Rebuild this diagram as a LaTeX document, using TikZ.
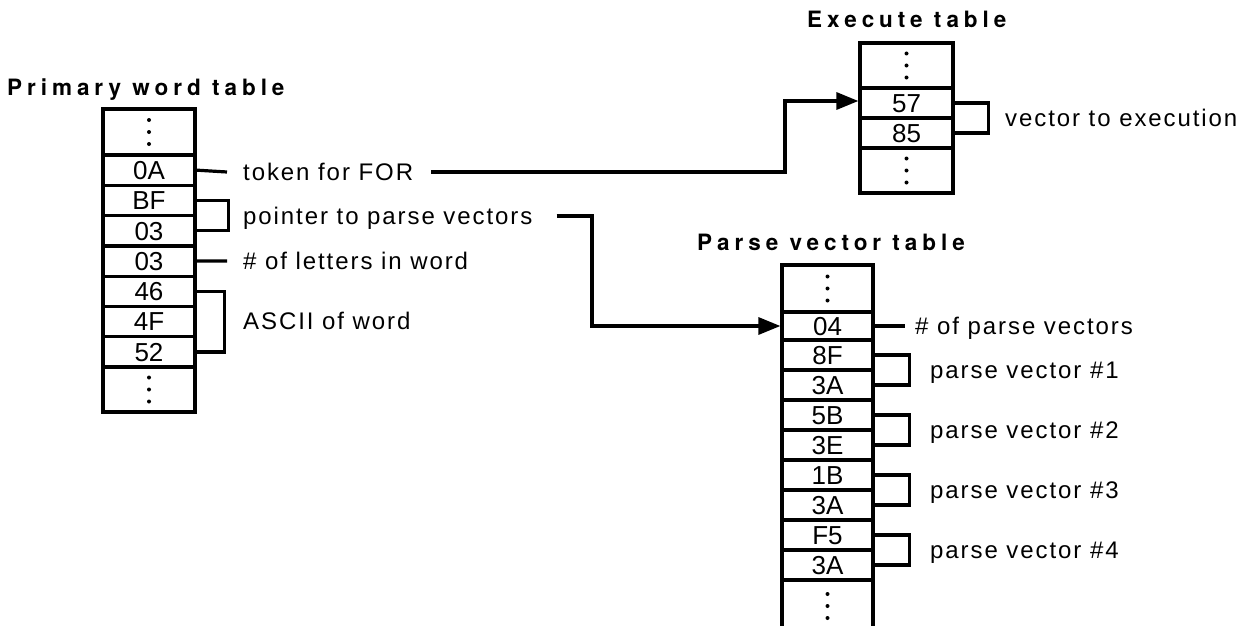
\documentclass[tikz,border=0pt]{standalone}
\usepackage{fontspec}
\setmainfont{Liberation Sans}
\newfontfamily\labfont{Liberation Sans}[LetterSpace=8]
\newfontfamily\titfont{TeX Gyre Heros}[LetterSpace=22]
\usetikzlibrary{arrows.meta}
\tikzset{
  cell/.style={draw, line width=3.2pt, minimum width=92pt, minimum height=30.3pt,
    inner sep=0pt, text height=18.6pt, text depth=0pt,
    font=\fontsize{26}{30}\selectfont},
  dotcell/.style={cell},
  lab/.style={anchor=west, inner sep=0pt, text height=17.2pt, text depth=0pt,
    font=\labfont\fontsize{24}{28}\selectfont},
  title/.style={anchor=base west, inner sep=0pt,
    font=\titfont\bfseries\fontsize{22.5}{26}\selectfont},
  conn/.style={line width=3.2pt},
  arr/.style={conn, -{Triangle[length=22pt,width=17pt]}},
}
\begin{document}
\begin{tikzpicture}[x=1pt,y=-1pt]
\useasboundingbox (0,0) rectangle (1252,626);
\clip (0,0) rectangle (1252,626);

% ---- Primary word table
\node[title] (tp) at (7,95) {Primary word table};
\node[dotcell, minimum height=46pt] (p0) at (149,132) {};
\node[cell] (p1) at (149,170.15) {0A};
\node[cell] (p2) at (149,200.45) {BF};
\node[cell] (p3) at (149,230.75) {03};
\node[cell] (p4) at (149,261.05) {03};
\node[cell] (p5) at (149,291.35) {46};
\node[cell] (p6) at (149,321.65) {4F};
\node[cell] (p7) at (149,351.95) {52};
\node[dotcell, minimum height=45pt] (p8) at (149,389.5) {};
\foreach \n in {p0,p8}{
  \foreach \d in {-12,0,12} \fill ([yshift=\d pt]\n.center) circle (2pt);
}

% labels
\node[lab] (tok) at (243,172) {token for FOR};
\node[lab] (ptr) at (243,216) {pointer to parse vectors};
\node[lab] (nol) at (243,261) {\# of letters in word};
\node[lab] (asc) at (243,321) {ASCII of word};

\draw[conn] (p1.east) -- ([xshift=-16pt]tok.west);
\draw[conn] (p2.east) -- ++(32,0) |- (p3.east);
\draw[conn] (p4.east) -- ([xshift=-16pt]nol.west);
\draw[conn] (p5.east) -- ++(28,0) |- (p7.east);

% ---- Execute table
\node[title] (te) at (807,28) {Execute table};
\node[dotcell, minimum width=93pt, minimum height=45pt] (e0) at (906.5,65.5) {};
\node[cell, minimum width=93pt] (e1) at (906.5,103) {57};
\node[cell, minimum width=93pt] (e2) at (906.5,133) {85};
\node[dotcell, minimum width=93pt, minimum height=45pt] (e3) at (906.5,170.5) {};
\foreach \n in {e0,e3}{
  \foreach \d in {-12,0,12} \fill ([yshift=\d pt]\n.center) circle (2pt);
}
\node[lab] (vte) at (1005,118) {vector to execution};
\draw[conn] (e1.east) -- ++(34,0) |- (e2.east);

% ---- Parse vector table
\node[title] (tv) at (697,250) {Parse vector table};
\node[dotcell, minimum width=91pt, minimum height=47pt] (v0) at (827.5,288.5) {};
\node[cell, minimum width=91pt, minimum height=28pt] (v1) at (827.5,326) {04};
\node[cell, minimum width=91pt, minimum height=30pt] (v2) at (827.5,355) {8F};
\node[cell, minimum width=91pt, minimum height=30pt] (v3) at (827.5,385) {3A};
\node[cell, minimum width=91pt, minimum height=30pt] (v4) at (827.5,415) {5B};
\node[cell, minimum width=91pt, minimum height=30pt] (v5) at (827.5,445) {3E};
\node[cell, minimum width=91pt, minimum height=30pt] (v6) at (827.5,475) {1B};
\node[cell, minimum width=91pt, minimum height=30pt] (v7) at (827.5,505) {3A};
\node[cell, minimum width=91pt, minimum height=30pt] (v8) at (827.5,535) {F5};
\node[cell, minimum width=91pt, minimum height=30pt] (v9) at (827.5,565) {3A};
\node[dotcell, minimum width=91pt, minimum height=70pt] (v10) at (827.5,615) {};
\foreach \d in {-12,0,12} \fill ([yshift=\d pt]v0.center) circle (2pt);
\foreach \d in {21,9,-3} \fill ([yshift=\d pt]v10.center) circle (2pt);

\node[lab] (npv) at (915,326) {\# of parse vectors};
\node[lab] (pv1) at (930,370) {parse vector \#1};
\node[lab] (pv2) at (930,430) {parse vector \#2};
\node[lab] (pv3) at (930,490) {parse vector \#3};
\node[lab] (pv4) at (930,550) {parse vector \#4};

\draw[conn] (v1.east) -- ([xshift=-10pt]npv.west);
\draw[conn] (v2.east) -- ++(35,0) |- (v3.east);
\draw[conn] (v4.east) -- ++(35,0) |- (v5.east);
\draw[conn] (v6.east) -- ++(35,0) |- (v7.east);
\draw[conn] (v8.east) -- ++(35,0) |- (v9.east);

% ---- connectors with arrows
\coordinate (tb) at (785,101);
\coordinate (pb) at (592,326);
\draw[arr] ([xshift=18pt]tok.east) -| (tb) -- (e1.west |- tb);
\draw[arr] ([xshift=24pt]ptr.east) -| (pb) -- (v1.west);
\end{tikzpicture}
\end{document}
